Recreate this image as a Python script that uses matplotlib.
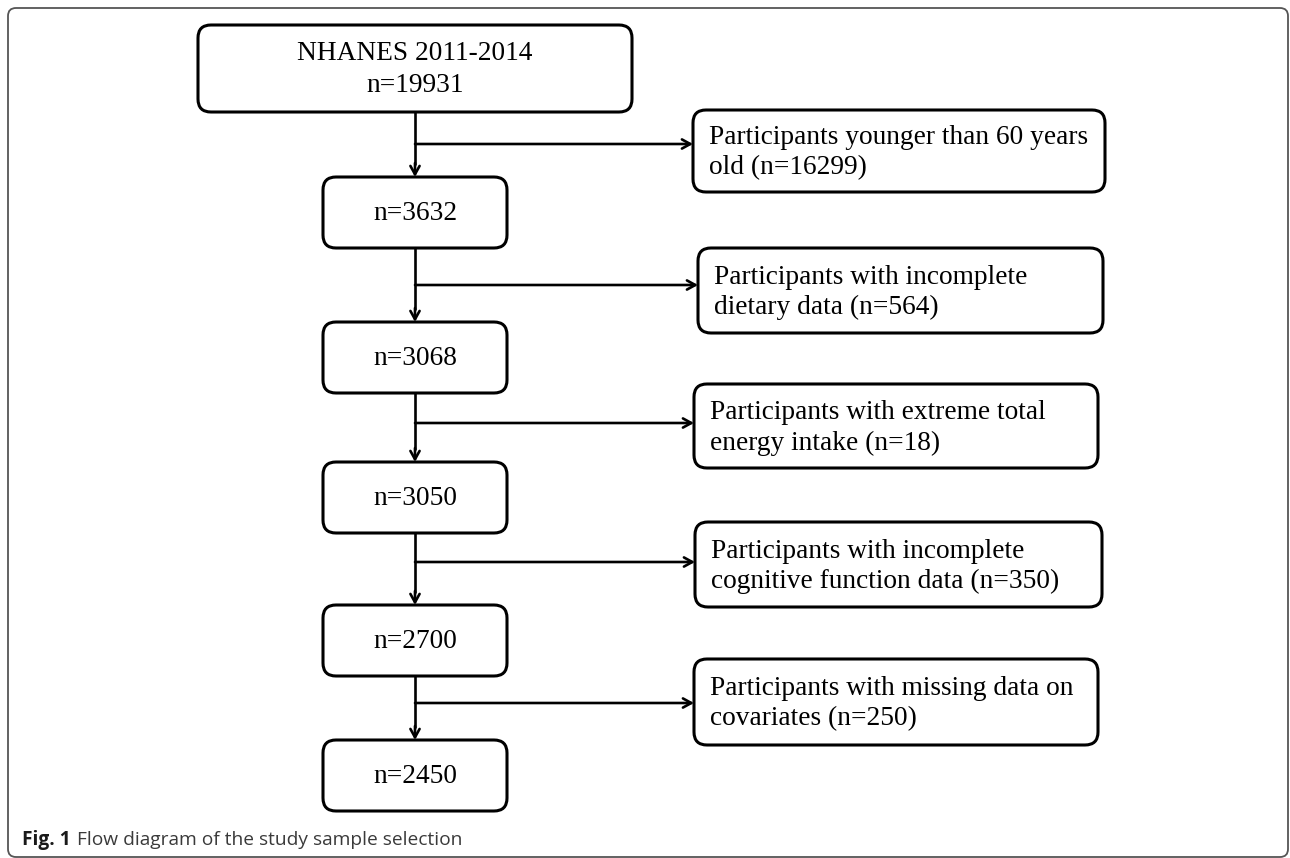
import matplotlib
matplotlib.use("Agg")
import matplotlib.pyplot as plt
from matplotlib.patches import FancyBboxPatch

# Flow data
source_label = "NHANES 2011-2014"
source_n = 19931
remaining_n = [3632, 3068, 3050, 2700, 2450]
excluded_reasons = [
    "Participants younger than 60 years\nold",
    "Participants with incomplete\ndietary data",
    "Participants with extreme total\nenergy intake",
    "Participants with incomplete\ncognitive function data",
    "Participants with missing data on\ncovariates",
]
excluded_n = [16299, 564, 18, 350, 250]
caption_bold = "Fig. 1"
caption_text = "Flow diagram of the study sample selection"

# Layout (pixel coordinates, y pointing down)
W, H = 1290, 858
center_x = 415
top_box = (198, 25, 632, 112)
main_x0, main_x1, main_h = 323, 507, 71
main_tops = [177, 322, 462, 605, 740]
branch_y = [144, 285, 423, 562, 703]
excl_boxes = [(693, 110, 1105, 192), (698, 248, 1103, 333), (694, 384, 1098, 468),
              (695, 522, 1102, 607), (694, 659, 1098, 745)]

serif = "Liberation Serif"
box_fs = 19.7
lw_box = 2.2
lw_arrow = 1.9

fig = plt.figure(figsize=(W / 100, H / 100), dpi=100)
ax = fig.add_axes([0, 0, 1, 1])
ax.set_xlim(0, W)
ax.set_ylim(H, 0)
ax.axis("off")


def rbox(x0, y0, x1, y1, pad=13, lw=lw_box, color="black", fill="white", z=3):
    p = FancyBboxPatch((x0 + pad, y0 + pad), x1 - x0 - 2 * pad, y1 - y0 - 2 * pad,
                       boxstyle="round,pad=%d,rounding_size=%d" % (pad, pad),
                       fc=fill, ec=color, lw=lw, zorder=z)
    ax.add_patch(p)


def arrow(x0, y0, x1, y1):
    ax.annotate("", xy=(x1, y1), xytext=(x0, y0),
                arrowprops=dict(arrowstyle="->,head_length=0.6,head_width=0.33",
                                lw=lw_arrow, color="black", shrinkA=0, shrinkB=0),
                zorder=4)


# outer frame
rbox(8, 8, 1288, 857, pad=8, lw=1.3, color="#555555", fill="none", z=1)

# top box
rbox(*top_box)
ax.text(center_x, (top_box[1] + top_box[3]) / 2 + 1,
        "%s\nn=%d" % (source_label, source_n), ha="center", va="center",
        fontsize=box_fs, family=serif, linespacing=1.32, zorder=5)

prev_bottom = top_box[3]
for i, n in enumerate(remaining_n):
    top = main_tops[i]
    # vertical connector with arrow, and branch to exclusion box
    ax.plot([center_x, center_x], [prev_bottom, top - 12], color="black",
            lw=lw_arrow, solid_capstyle="butt", zorder=2)
    arrow(center_x, top - 14, center_x, top)
    ex = excl_boxes[i]
    arrow(center_x, branch_y[i], ex[0], branch_y[i])
    # main box
    rbox(main_x0, top, main_x1, top + main_h)
    ax.text(center_x, top + main_h / 2 + 1, "n=%d" % n, ha="center", va="center",
            fontsize=box_fs, family=serif, zorder=5)
    # exclusion box
    rbox(*ex)
    ax.text(ex[0] + 16, (ex[1] + ex[3]) / 2 + 2,
            "%s (n=%d)" % (excluded_reasons[i], excluded_n[i]),
            ha="left", va="center", fontsize=box_fs, family=serif,
            linespacing=1.27, zorder=5)
    prev_bottom = top + main_h

# caption
t = ax.text(22, 840, caption_bold, ha="left", va="center", fontsize=13.8,
            family="Open Sans", fontweight="bold", color="#1a1a1a")
fig.canvas.draw()
bb = t.get_window_extent(renderer=fig.canvas.get_renderer())
ax.text(bb.x1 + 6, 840, caption_text, ha="left", va="center", fontsize=13.8,
        family="Open Sans", color="#3a3a3a")

fig.savefig("out.png", dpi=100)
